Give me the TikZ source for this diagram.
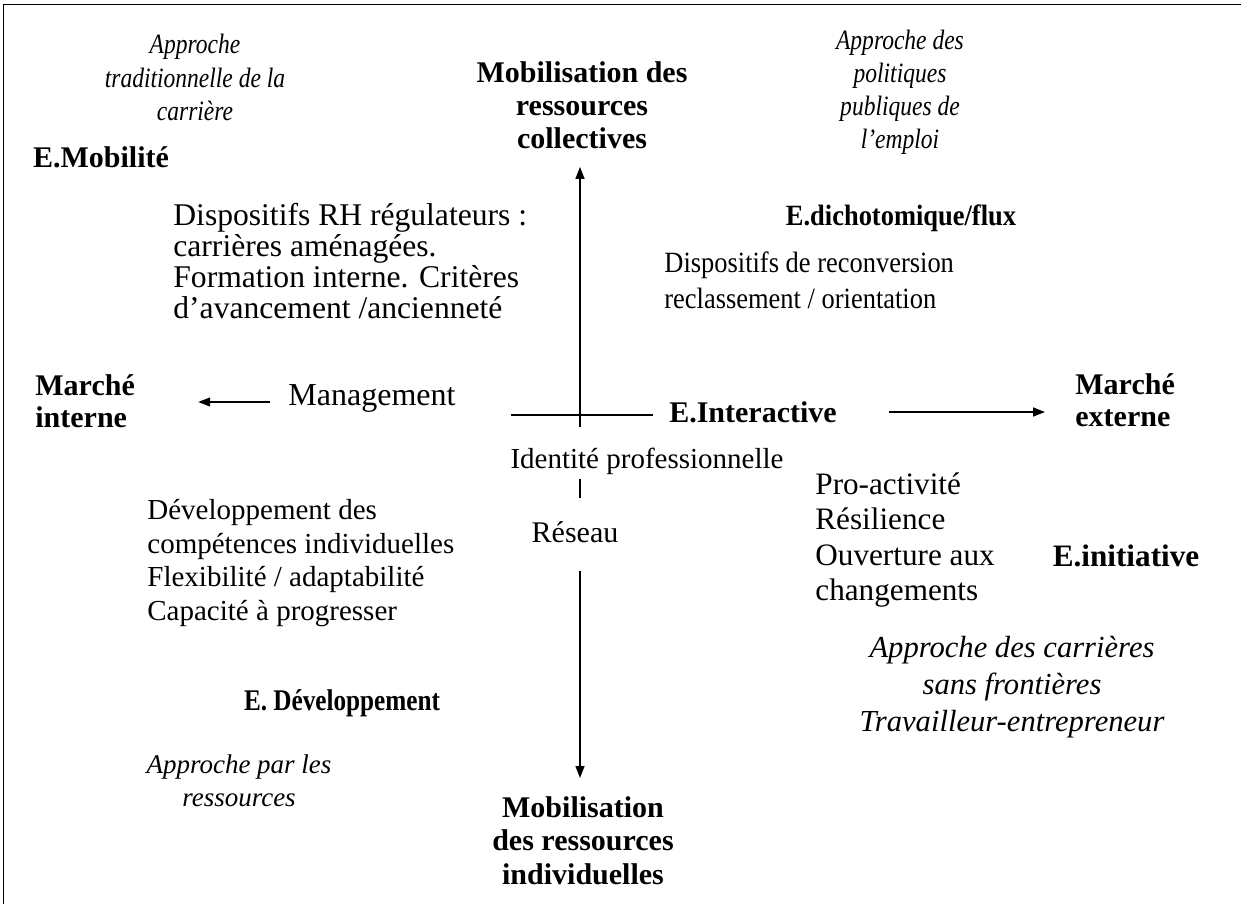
\documentclass[tikz,border=0pt]{standalone}
\usepackage{fontspec}
\setmainfont{Liberation Serif}
\newfontfamily\condrm[FakeStretch=0.84]{Liberation Serif}
\newfontfamily\semirm[FakeStretch=0.9]{Liberation Serif}
\usetikzlibrary{arrows.meta}

\begin{document}
\begin{tikzpicture}[
    x=0.5pt, y=-0.5pt,
    txt/.style={inner sep=0pt, align=left, font=\fontsize{14.5}{#1}\selectfont},
    txt/.default=16.5,
    bld/.style={inner sep=0pt, align=left, font=\fontsize{15}{#1}\selectfont\bfseries},
    bld/.default=16.5,
    itl/.style={inner sep=0pt, anchor=north, align=center, font=\condrm\fontsize{14}{#1}\selectfont\itshape},
    itl/.default=16.75,
    ln/.style={line width=0.7pt},
    arr/.style={ln, -{Triangle[length=6pt,width=4.5pt]}},
    frm/.style={line width=0.5pt}
  ]
  \useasboundingbox (0,0) rectangle (1241,904);
  \draw[frm] (3,904) -- (3,5) -- (1241,5);

  \node[itl] (atr) at (195,34) {Approche\\traditionnelle de la\\carrière};
  \node[bld, anchor=north, align=center] (mrc) at (582,61) {Mobilisation des\\ressources\\collectives};
  \node[itl=16.5] (apo) at (900,30) {Approche des\\politiques\\publiques de\\l’emploi};
  \node[bld] (emo) at (101,157) {E.Mobilité};
  \node[txt, font=\fontsize{15.8}{15.5}\selectfont, anchor=north west] (drh) at (173,203) {Dispositifs RH régulateurs :\\carrières aménagées.\\Formation interne. Critères\\d’avancement /ancienneté};
  \node[bld, font=\semirm\fontsize{14.7}{16}\selectfont\bfseries] (edf) at (901,218) {E.dichotomique/flux};
  \node[txt, font=\semirm\fontsize{14.7}{18}\selectfont, anchor=north west] (drc) at (664,251) {Dispositifs de reconversion\\reclassement / orientation};
  \node[bld=16, anchor=north west] (mi) at (35,374) {Marché\\interne};
  \node[txt, font=\fontsize{16}{18}\selectfont] (mgt) at (372,398) {Management};
  \node[bld] (eia) at (753,412) {E.Interactive};
  \node[bld=16, anchor=north west] (me) at (1075,373) {Marché\\externe};
  \node[txt] (idp) at (647,461) {Identité professionnelle};
  \node[txt, font=\fontsize{15}{18}\selectfont] (res) at (575,532) {Réseau};
  \node[txt=16.75, anchor=north west] (dci) at (147,499) {Développement des\\compétences individuelles\\Flexibilité / adaptabilité\\Capacité à progresser};
  \node[txt, font=\fontsize{15.6}{17.8}\selectfont, anchor=north west] (pro) at (815,472) {Pro-activité\\Résilience\\Ouverture aux\\changements};
  \node[bld, font=\fontsize{15.6}{18}\selectfont\bfseries] (ein) at (1126,556) {E.initiative};
  \node[itl, font=\fontsize{15.3}{18.5}\selectfont\itshape] (acs) at (1012,636) {Approche des carrières\\sans frontières\\Travailleur-entrepreneur};
  \node[bld, font=\condrm\fontsize{15}{16}\selectfont\bfseries] (edv) at (342,703) {E. Développement};
  \node[itl, font=\fontsize{13.5}{16.5}\selectfont\itshape] (apr) at (239,754) {Approche par les\\ressources};
  \node[bld=16.75, anchor=north, align=center] (mri) at (583,796) {Mobilisation\\des ressources\\individuelles};

  \coordinate (hub) at (580,415);
  \draw[ln, shorten <=27.5pt, shorten >=8pt] (mgt.east |- hub) -- (eia.west |- hub);
  \draw[arr, shorten >=9pt] ([yshift=-6pt]hub) -- (mrc.south -| hub);
  \draw[arr, shorten <=9pt, shorten >=31.5pt] ([yshift=-2pt]mgt.west) -- ([yshift=-2pt]mgt.west -| mi.east);
  \draw[arr, shorten <=26pt, shorten >=15pt] (eia.east) -- (eia.east -| me.west);
  \draw[ln, shorten <=2pt, shorten >=11.5pt] (idp.south -| hub) -- (res.north -| hub);
  \draw[arr, shorten <=14pt, shorten >=9pt] (res.south -| hub) -- (mri.north -| hub);
\end{tikzpicture}
\end{document}
